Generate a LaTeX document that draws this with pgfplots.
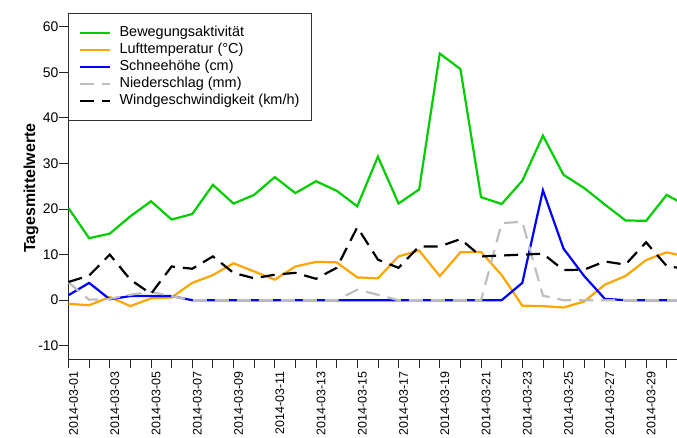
\documentclass[border=0pt]{standalone}
\usepackage{fontspec}
\setmainfont{Liberation Sans}
\usepackage{pgfplots}
\usepackage{pgfplotstable}
\pgfplotsset{compat=1.18}

\definecolor{cgreen}{RGB}{0,205,0}
\definecolor{corange}{RGB}{255,165,0}
\definecolor{cblue}{RGB}{0,0,255}
\definecolor{cgray}{RGB}{190,190,190}

% daily means, March 2014
\pgfplotstableread{
day act  temp snow rain wind
1   20.2 -0.8 1.1  3.9  4.0
2   13.6 -1.1 3.8  0.1  5.4
3   14.6  0.7 0.2  0.3 10.0
4   18.4 -1.3 0.9  1.2  4.5
5   21.7  0.4 0.9  1.8  1.4
6   17.7  0.6 0.9  0.9  7.4
7   18.9  3.8 0.0  0.0  6.9
8   25.3  5.5 0.0  0.0  9.6
9   21.2  8.1 0.0  0.0  6.0
10  23.1  6.3 0.0  0.0  4.8
11  27.0  4.5 0.0  0.0  5.6
12  23.5  7.4 0.0  0.0  6.0
13  26.1  8.4 0.0  0.0  4.7
14  24.0  8.3 0.0  0.0  7.1
15  20.6  5.0 0.0  2.3 16.0
16  31.5  4.8 0.0  1.2  8.9
17  21.2  9.6 0.0  0.0  7.1
18  24.3 10.9 0.0  0.0 11.8
19  54.1  5.3 0.0  0.0 11.8
20  50.7 10.5 0.0  0.0 13.4
21  22.6 10.6 0.0  0.0  9.6
22  21.1  5.5 0.0 16.9  9.8
23  26.2 -1.2 3.8 17.2 10.0
24  36.1 -1.3 24.1 1.0 10.2
25  27.5 -1.6 11.3 0.0  6.6
26  24.6 -0.3 5.3  0.0  6.7
27  21.0  3.4 0.3  0.0  8.5
28  17.5  5.3 0.0  0.0  7.8
29  17.4  8.8 0.0  0.0 12.7
30  23.1 10.5 0.0  0.0  7.5
31  20.6  9.5 0.0  0.0  6.8
}\datatable

\begin{document}
\begin{tikzpicture}
\useasboundingbox (-68.5bp,-79bp) rectangle (608.5bp,359bp);
\begin{axis}[
    scale only axis,
    width=608.5bp, height=346bp,
    xmin=1, xmax=30.5,
    ymin=-12.9, ymax=63,
    axis x line*=bottom,
    axis y line*=left,
    axis line style={black!85, line width=0.8bp},
    tick align=outside,
    major tick length=9bp,
    minor tick length=9bp,
    tick style={black!85, line width=0.8bp},
    xtick={1,3,...,29},
    minor xtick={2,4,...,30},
    xticklabels={2014-03-01,2014-03-03,2014-03-05,2014-03-07,2014-03-09,
        2014-03-11,2014-03-13,2014-03-15,2014-03-17,2014-03-19,
        2014-03-21,2014-03-23,2014-03-25,2014-03-27,2014-03-29},
    xticklabel style={rotate=90, anchor=east, yshift=-5bp, font=\fontsize{12.5}{12.5}\selectfont},
    ytick={-10,0,...,60},
    yticklabel style={xshift=2.5bp, font=\fontsize{14}{14}\selectfont},
    /pgf/number format/assume math mode=true,
    ylabel={\bfseries Tagesmittelwerte},
    ylabel style={font=\fontsize{16}{16}\selectfont, at={(axis description cs:-0.0616,0.494)}, anchor=center},
    legend style={at={(0,1)}, anchor=north west, draw=black!80, line width=0.8bp,
        inner xsep=10bp, inner ysep=11bp,
        font=\fontsize{14.5}{14.5}\selectfont,
        nodes={inner sep=1.5bp, text height=11bp, text depth=3bp},
        column sep=7bp},
    legend cell align=left,
    legend image code/.code={\draw[#1] (0bp,0bp) -- (30bp,0bp);},
    every axis plot/.append style={line width=2.2bp},
]
\addplot[cgreen] table[x=day, y=act] {\datatable};
\addplot[corange] table[x=day, y=temp] {\datatable};
\addplot[cblue] table[x=day, y=snow] {\datatable};
\addplot[cgray, dash pattern=on 14bp off 8bp] table[x=day, y=rain] {\datatable};
\addplot[black, dash pattern=on 14bp off 8bp] table[x=day, y=wind] {\datatable};
\legend{Bewegungsaktivität, Lufttemperatur (°C), Schneehöhe (cm), Niederschlag (mm), Windgeschwindigkeit (km/h)}
\end{axis}
\end{tikzpicture}
\end{document}
